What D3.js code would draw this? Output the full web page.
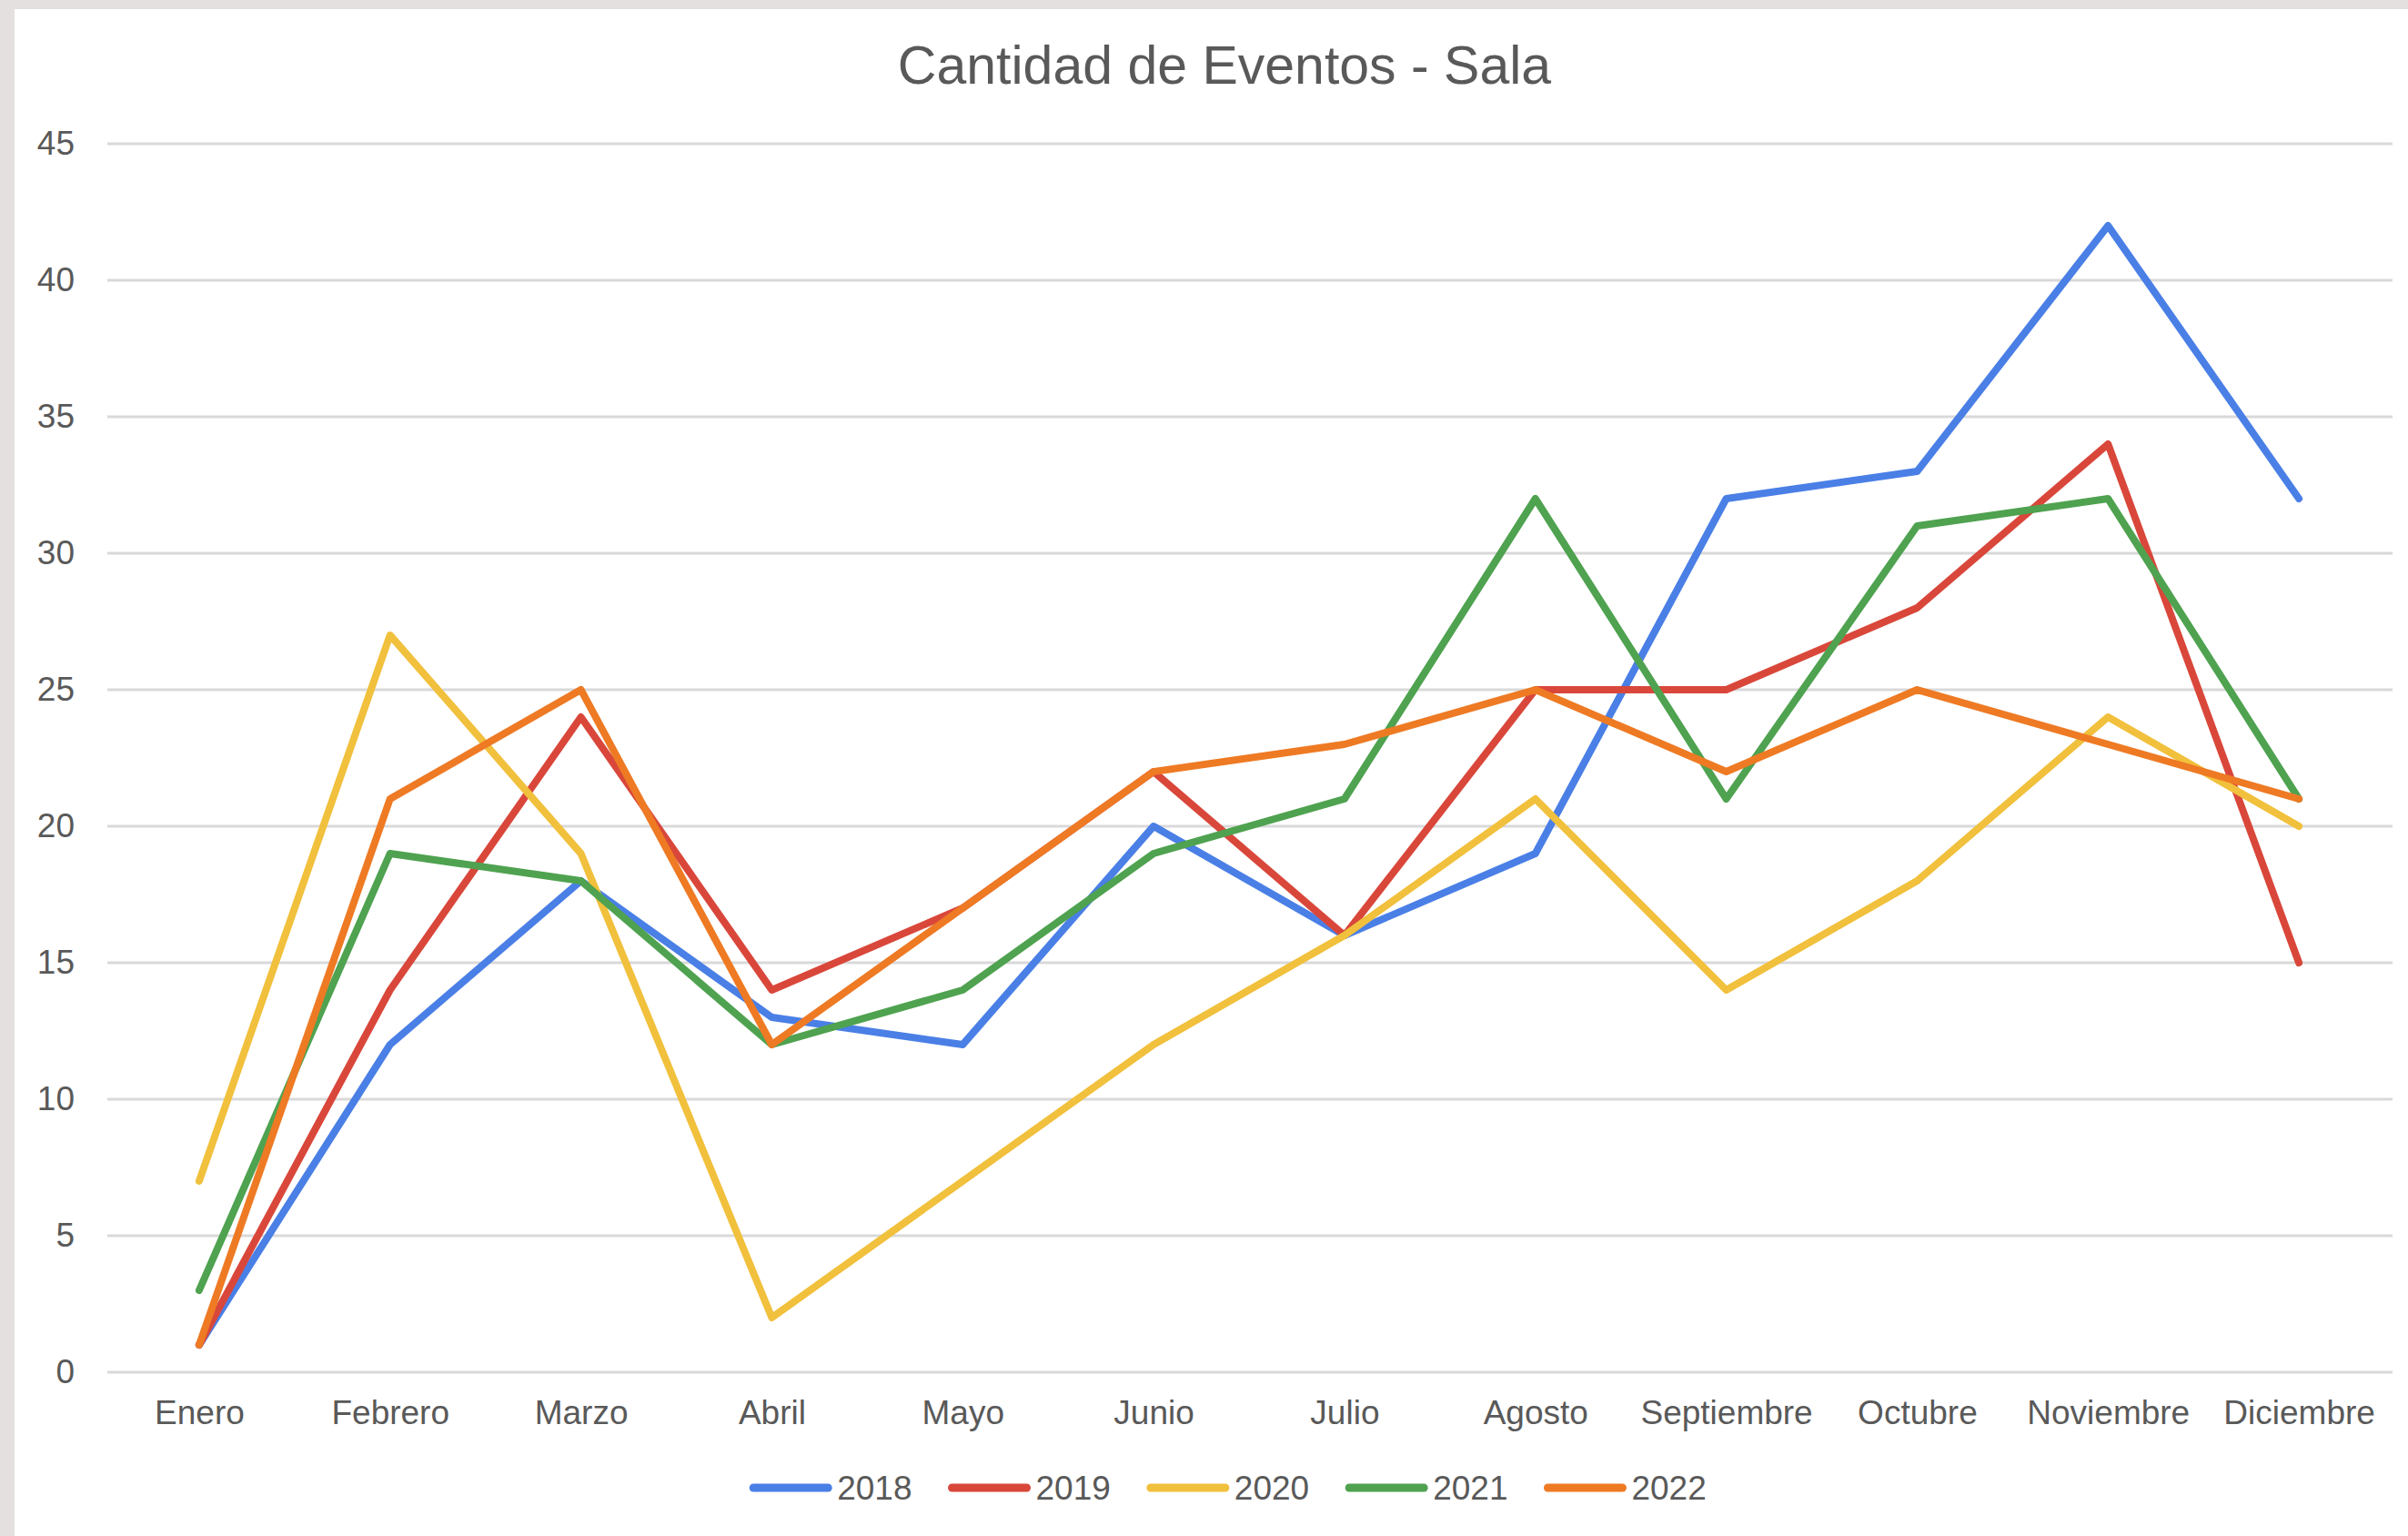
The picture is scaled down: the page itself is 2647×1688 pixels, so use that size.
<!DOCTYPE html>
<html>
  <head>
    <meta charset="utf-8">
    <title>Cantidad de Eventos - Sala</title>
    <style>
      body { margin: 0; background: #e3e0df; }
      svg { display: block; }
      text { font-family: "Liberation Sans", Arial, Helvetica, sans-serif; fill: #595959; }
      .grid line { stroke: #d9d9d9; stroke-width: 3; }
      .series { fill: none; stroke-width: 8; stroke-linejoin: round; stroke-linecap: round; }
    </style>
  </head>
  <body>
    <div id="chart"></div>

    <script src="https://d3js.org/d3.v7.min.js"></script>
    <script>
      // data
      const months = ["Enero", "Febrero", "Marzo", "Abril", "Mayo", "Junio", "Julio",
                      "Agosto", "Septiembre", "Octubre", "Noviembre", "Diciembre"];
      const years = ["2018", "2019", "2020", "2021", "2022"];
      const v2018 = [1, 12, 18, 13, 12, 20, 16, 19, 32, 33, 42, 32];
      const v2019 = [1, 14, 24, 14, 17, 22, 16, 25, 25, 28, 34, 15];
      const v2020 = [7, 27, 19, 2, 7, 12, 16, 21, 14, 18, 24, 20];
      const v2021 = [3, 19, 18, 12, 14, 19, 21, 32, 21, 31, 32, 21];
      const v2022 = [1, 21, 25, 12, 17, 22, 23, 25, 22, 25, 23, 21];
      const yTicks = [0, 5, 10, 15, 20, 25, 30, 35, 40, 45];
      const colors = ["#4a7fe6", "#d9473b", "#f1c03c", "#4fa250", "#ee7a24"];

      const series = years.map((y, i) => ({
        name: y,
        color: colors[i],
        values: [v2018, v2019, v2020, v2021, v2022][i]
      }));

      const W = 2647, H = 1688;

      const svg = d3.select("#chart")
        .append("svg")
        .attr("width", W)
        .attr("height", H);

      // white card with the grey strip on top and left
      svg.append("rect")
        .attr("x", 16).attr("y", 10)
        .attr("width", W - 16).attr("height", H - 10)
        .attr("fill", "#fff");

      const x = d3.scalePoint()
        .domain(months)
        .range([114, 2632])
        .padding(0.5);

      const y = d3.scaleLinear()
        .domain([0, 45])
        .range([1508, 158]);

      // title
      svg.append("text")
        .attr("x", 1346)
        .attr("y", 92)
        .attr("text-anchor", "middle")
        .style("font-size", "59px")
        .text("Cantidad de Eventos - Sala");

      // gridlines
      svg.append("g")
        .attr("class", "grid")
        .selectAll("line")
        .data(yTicks)
        .enter().append("line")
        .attr("x1", 118)
        .attr("x2", 2630)
        .attr("y1", d => y(d))
        .attr("y2", d => y(d));

      // y axis
      const yAxis = svg.append("g")
        .attr("transform", "translate(118,0)")
        .call(d3.axisLeft(y).tickValues(yTicks).tickSize(0).tickPadding(36));
      yAxis.select(".domain").remove();
      yAxis.selectAll("text")
        .style("font-size", "37px")
        .attr("fill", "#595959");

      // x axis
      const xAxis = svg.append("g")
        .attr("transform", "translate(0,1508)")
        .call(d3.axisBottom(x).tickSize(0).tickPadding(31));
      xAxis.select(".domain").remove();
      xAxis.selectAll("text")
        .style("font-size", "37px")
        .attr("fill", "#595959");

      // lines
      const line = d3.line()
        .x((d, i) => x(months[i]))
        .y(d => y(d));

      svg.selectAll(".series")
        .data(series)
        .enter().append("path")
        .attr("class", "series")
        .attr("stroke", d => d.color)
        .attr("d", d => line(d.values));

      // legend
      const legend = svg.append("g");
      let lx = 0;
      series.forEach(s => {
        const g = legend.append("g").attr("transform", `translate(${lx},0)`);
        g.append("line")
          .attr("x1", 4).attr("x2", 86)
          .attr("y1", 0).attr("y2", 0)
          .attr("stroke", s.color)
          .attr("stroke-width", 9)
          .attr("stroke-linecap", "round");
        const t = g.append("text")
          .attr("x", 96)
          .attr("y", 13)
          .style("font-size", "37px")
          .text(s.name);
        lx += 96 + t.node().getComputedTextLength() + 40;
      });
      const legendW = lx - 40;
      legend.attr("transform", `translate(${1350 - legendW / 2},1635)`);
    </script>
  </body>
</html>
